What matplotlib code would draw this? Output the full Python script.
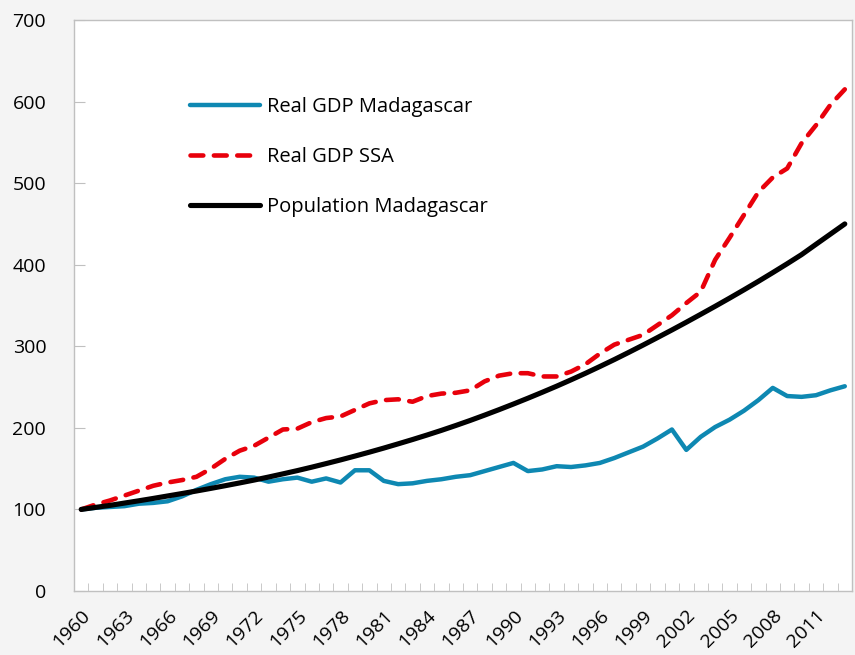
import numpy as np
import matplotlib
matplotlib.use("Agg")
import matplotlib.pyplot as plt

years = list(range(1960, 2014))

gdp_madagascar = [100, 102, 103, 104, 107, 108, 110, 116, 124, 131,
                  137, 140, 139, 134, 137, 139, 134, 138, 133, 148,
                  148, 135, 131, 132, 135, 137, 140, 142, 147, 152,
                  157, 147, 149, 153, 152, 154, 157, 163, 170, 177,
                  187, 198, 173, 189, 201, 210, 221, 234, 249, 239,
                  238, 240, 246, 251]

gdp_ssa = [100, 106, 111, 117, 123, 129, 133, 136, 140, 150,
           162, 172, 178, 188, 198, 199, 207, 212, 214, 222,
           230, 234, 235, 232, 239, 242, 243, 246, 257, 264,
           267, 267, 263, 263, 269, 278, 291, 302, 308, 314,
           326, 338, 353, 367, 406, 433, 461, 489, 507, 518,
           549, 571, 596, 615]

pop_madagascar = [100, 102.5, 105, 107.8, 110.6, 113.5, 116.5, 119.5, 122.6, 125.8,
                  129.1, 132.5, 136, 139.7, 143.6, 147.6, 151.8, 156.2, 160.7, 165.4,
                  170.2, 175.2, 180.4, 185.7, 191.2, 196.9, 202.9, 209.1, 215.6, 222.3,
                  229.2, 236.3, 243.6, 251.1, 258.9, 266.9, 275.2, 283.7, 292.5, 301.5,
                  310.7, 320.0, 329.5, 339.2, 349.0, 359.0, 369.2, 379.6, 390.3, 401.2,
                  412.4, 425.0, 437.5, 450.0]

series_labels = ["Real GDP Madagascar", "Real GDP SSA", "Population Madagascar"]
y_ticks = [0, 100, 200, 300, 400, 500, 600, 700]

plt.rcParams['font.family'] = ['Open Sans', 'DejaVu Sans']

fig = plt.figure(figsize=(8.55, 6.55), dpi=100)
fig.patch.set_facecolor('#f4f4f4')
ax = fig.add_axes([74/855, 1-591/655, 778/855, 571/655])
ax.set_facecolor('white')

x = np.arange(len(years))
ax.plot(x, gdp_madagascar, color='#0E88B2', lw=3.2, solid_capstyle='round',
        solid_joinstyle='round', label=series_labels[0])
ax.plot(x, gdp_ssa, color='#E8000B', lw=3.3, linestyle=(0, (2.8, 2.3)),
        dash_capstyle='round', label=series_labels[1])
ax.plot(x, pop_madagascar, color='black', lw=3.7, solid_capstyle='round',
        label=series_labels[2])

ax.set_xlim(-0.5, len(years) - 0.5)
ax.set_ylim(0, 700)
ax.set_yticks(y_ticks)
ax.set_yticklabels([str(v) for v in y_ticks], fontsize=14)
ax.tick_params(axis='y', direction='in', length=8, color='#c0c0c0', pad=20)

ax.set_xticks(x[::3])
ax.set_xticklabels([str(y) for y in years[::3]], rotation=45, ha='right',
                   rotation_mode='anchor', fontsize=14)
ax.set_xticks(np.arange(-0.5, len(years)), minor=True)
ax.tick_params(axis='x', which='major', length=0, pad=11)
ax.tick_params(axis='x', which='minor', direction='in', length=6, color='#c0c0c0')

for s in ax.spines.values():
    s.set_color('#c0c0c0')
    s.set_linewidth(1.0)

leg = ax.legend(loc='upper left', bbox_to_anchor=((190-74)/778, (591-97)/571),
                frameon=False, fontsize=14.5, handlelength=3.5, handletextpad=0.3,
                labelspacing=1.5, borderpad=0, borderaxespad=0)

fig.savefig('out.png', dpi=100, facecolor=fig.get_facecolor())
